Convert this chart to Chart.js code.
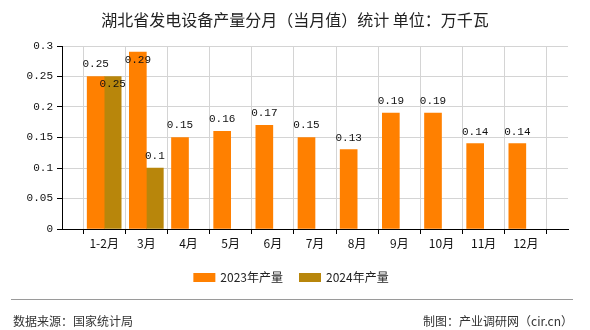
<!DOCTYPE html>
<html>
<head>
<meta charset="utf-8">
<script src="https://cdn.jsdelivr.net/npm/chart.js@4/dist/chart.umd.min.js"></script>
<style>
  html, body { margin: 0; padding: 0; background: #fff; }
  #wrap { width: 590px; height: 330px; position: relative; }
</style>
</head>
<body>
<div id="wrap"><canvas id="c" width="590" height="330"></canvas></div>
<script>
const titleText = '湖北省发电设备产量分月（当月值）统计 单位：万千瓦';
const sourceText = '数据来源：国家统计局';
const creditText = '制图：产业调研网（cir.cn）';
const categories = ['', '1-2月', '3月', '4月', '5月', '6月', '7月', '8月', '9月', '10月', '11月', '12月', ''];
const series2023Name = '2023年产量';
const series2024Name = '2024年产量';
const values2023 = [null, 0.25, 0.29, 0.15, 0.16, 0.17, 0.15, 0.13, 0.19, 0.19, 0.14, 0.14, null];
const values2024 = [null, 0.25, 0.1, null, null, null, null, null, null, null, null, null, null];
const yTicks = [0, 0.05, 0.1, 0.15, 0.2, 0.25, 0.3];

const monoFont = '"Liberation Mono", "Noto Sans CJK SC", monospace';
const cjkFont = '"Noto Sans CJK SC", "Liberation Sans", sans-serif';

const fmt = v => String(Math.round(v * 100) / 100);

const extrasPlugin = {
  id: 'extras',
  afterDatasetsDraw(chart) {
    const ctx = chart.ctx;
    const area = chart.chartArea;
    ctx.save();
    ctx.font = '11px ' + monoFont;
    ctx.fillStyle = '#111';
    ctx.textAlign = 'center';
    ctx.textBaseline = 'middle';
    const placed = [];
    chart.data.datasets.forEach((ds, di) => {
      const meta = chart.getDatasetMeta(di);
      meta.data.forEach((el, i) => {
        const v = ds.data[i];
        if (v === null || v === undefined) return;
        const txt = fmt(v);
        const w = ctx.measureText(txt).width;
        let y = el.y - 12;
        const box = () => ({ l: el.x - w / 2, r: el.x + w / 2, t: y - 6, b: y + 6 });
        let b = box();
        const hits = placed.some(p => p.l < b.r && b.l < p.r && p.t < b.b && b.t < p.b);
        if (b.t < area.top || hits) { y = el.y + 8; b = box(); }
        placed.push(b);
        ctx.fillText(txt, el.x, y);
      });
    });
    ctx.restore();
  },
  afterDraw(chart) {
    const ctx = chart.ctx;
    ctx.save();
    // title
    ctx.fillStyle = '#222';
    ctx.font = '16px ' + cjkFont;
    ctx.textAlign = 'center';
    ctx.textBaseline = 'middle';
    ctx.fillText(titleText, 295, 20);
    // legend
    ctx.font = '12px ' + cjkFont;
    const items = chart.data.datasets.map(d => ({ label: d.label, color: d.backgroundColor, w: ctx.measureText(d.label).width }));
    const boxW = 22, boxH = 9, gap = 5, spacing = 16;
    const total = items.reduce((s, it) => s + boxW + gap + it.w, 0) + spacing * (items.length - 1);
    let x = 291 - total / 2;
    const ly = 277.5;
    ctx.textAlign = 'left';
    items.forEach(it => {
      ctx.fillStyle = it.color;
      ctx.fillRect(x, ly - boxH / 2, boxW, boxH);
      ctx.fillStyle = '#222';
      ctx.fillText(it.label, x + boxW + gap, ly);
      x += boxW + gap + it.w + spacing;
    });
    // footer
    ctx.strokeStyle = '#9a9a9a';
    ctx.lineWidth = 1;
    ctx.beginPath();
    ctx.moveTo(11, 299.5);
    ctx.lineTo(573, 299.5);
    ctx.stroke();
    ctx.fillStyle = '#333';
    ctx.font = '12px ' + cjkFont;
    ctx.textAlign = 'left';
    ctx.fillText(sourceText, 13, 321);
    ctx.textAlign = 'right';
    ctx.fillText(creditText, 573, 321);
    ctx.restore();
  }
};

new Chart(document.getElementById('c'), {
  type: 'bar',
  data: {
    labels: categories,
    datasets: [
      { label: series2023Name, data: values2023, backgroundColor: '#FF8000', barThickness: 17 },
      { label: series2024Name, data: values2024, backgroundColor: '#B8860B', barThickness: 17 }
    ]
  },
  options: {
    responsive: false,
    animation: false,
    devicePixelRatio: 1,
    layout: { padding: { top: 46, left: 0, right: 22, bottom: 0 } },
    plugins: { legend: { display: false }, title: { display: false }, tooltip: { enabled: false } },
    scales: {
      x: {
        offset: false,
        afterFit: s => { s.height = 101; },
        grid: { display: true, color: '#d4d4d4', tickColor: '#000', tickLength: 5, drawOnChartArea: true },
        border: { display: true, color: '#000', width: 1 },
        ticks: { color: '#111', font: { family: cjkFont, size: 12 }, padding: 2, maxRotation: 0, autoSkip: false }
      },
      y: {
        min: 0, max: 0.3,
        afterFit: s => { s.width = 62; },
        afterBuildTicks: s => { s.ticks = yTicks.map(v => ({ value: v })); },
        grid: { color: '#d4d4d4', tickColor: '#000', tickLength: 5 },
        border: { display: true, color: '#000', width: 1 },
        ticks: { color: '#111', font: { family: monoFont, size: 11 }, padding: 4, callback: v => fmt(v) }
      }
    }
  },
  plugins: [extrasPlugin]
});
</script>
</body>
</html>
